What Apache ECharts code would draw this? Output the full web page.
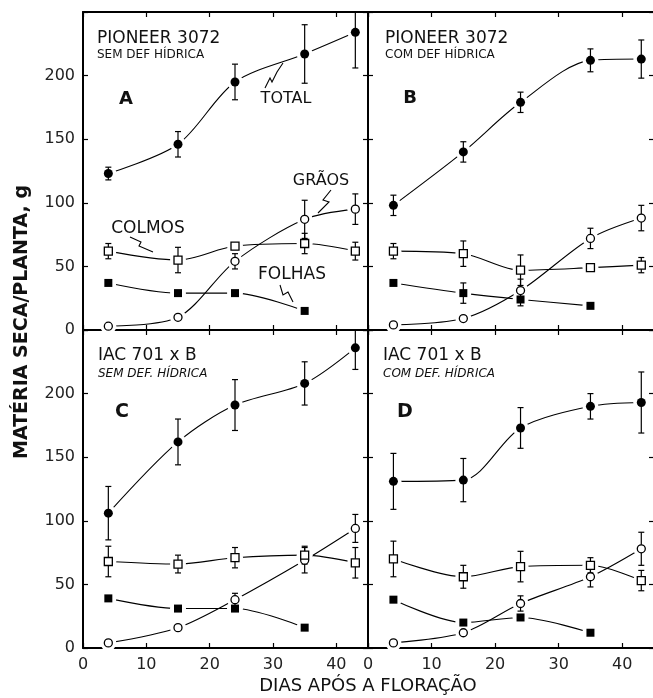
<!DOCTYPE html>
<html>
<head>
<meta charset="utf-8">
<script src="https://cdn.jsdelivr.net/npm/echarts@6/dist/echarts.min.js"></script>
<style>
  html, body { margin: 0; padding: 0; background: #fff; }
  #chart { width: 653px; height: 698px; }
</style>
</head>
<body>
<div id="chart"></div>
<script>
// sampling days after flowering
const days = [4, 15, 24, 35, 43];
const folhaDays = [4, 15, 24, 35];

// A - Pioneer 3072, sem deficiencia hidrica
const totalA = [123, 146, 195, 217, 234];
const totalErrA = [5, 10, 14, 23, 28];
const graosA = [3, 10, 54, 87, 95];
const graosErrA = [0, 0, 6, 15, 12];
const colmosA = [62, 55, 66, 68, 62];
const colmosErrA = [6, 10, 0, 8, 7];
const folhasA = [37, 29, 29, 15];

// B - Pioneer 3072, com deficiencia hidrica
const totalB = [98, 140, 179, 212, 213];
const totalErrB = [8, 8, 8, 9, 15];
const graosB = [4, 9, 31, 72, 88];
const graosErrB = [0, 0, 9, 8, 10];
const colmosB = [62, 60, 47, 49, 51];
const colmosErrB = [6, 10, 12, 0, 6];
const folhasB = [37, 29, 24, 19];
const folhasErrB = [0, 8, 5, 0];

// C - IAC 701 x B, sem deficiencia hidrica
const totalC = [106, 162, 191, 208, 236];
const totalErrC = [21, 18, 20, 17, 17];
const graosC = [4, 16, 38, 69, 94];
const graosErrC = [0, 0, 5, 10, 11];
const colmosC = [68, 66, 71, 73, 67];
const colmosErrC = [12, 7, 8, 7, 12];
const folhasC = [39, 31, 31, 16];

// D - IAC 701 x B, com deficiencia hidrica
const totalD = [131, 132, 173, 190, 193];
const totalErrD = [22, 17, 16, 10, 24];
const graosD = [4, 12, 35, 56, 78];
const graosErrD = [0, 0, 6, 8, 13];
const colmosD = [70, 56, 64, 65, 53];
const colmosErrD = [14, 9, 12, 6, 8];
const folhasD = [38, 20, 24, 12];

const yTicks = [0, 50, 100, 150, 200];
const xTicks = [0, 10, 20, 30, 40];

const FONT = '"DejaVu Sans", sans-serif';
const INK = '#111';
const HALO = '#fff';

const panels = [
    { total: totalA, totalErr: totalErrA, graos: graosA, graosErr: graosErrA, colmos: colmosA, colmosErr: colmosErrA, folhas: folhasA, folhasErr: [] },
    { total: totalB, totalErr: totalErrB, graos: graosB, graosErr: graosErrB, colmos: colmosB, colmosErr: colmosErrB, folhas: folhasB, folhasErr: folhasErrB },
    { total: totalC, totalErr: totalErrC, graos: graosC, graosErr: graosErrC, colmos: colmosC, colmosErr: colmosErrC, folhas: folhasC, folhasErr: [] },
    { total: totalD, totalErr: totalErrD, graos: graosD, graosErr: graosErrD, colmos: colmosD, colmosErr: colmosErrD, folhas: folhasD, folhasErr: [] },
];

const gridBoxes = [
    { left: 83, top: 12 },
    { left: 368, top: 12 },
    { left: 83, top: 330 },
    { left: 368, top: 330 },
];

const markerStyles = {
    total: { symbol: "circle", symbolSize: 9, itemStyle: { color: "#000", opacity: 1 } },
    graos: { symbol: "circle", symbolSize: 8, itemStyle: { color: "#fff", borderColor: "#000", borderWidth: 1.3, opacity: 1 } },
    colmos: { symbol: "rect", symbolSize: 8, itemStyle: { color: "#fff", borderColor: "#000", borderWidth: 1.3, opacity: 1 } },
    folhas: { symbol: "rect", symbolSize: 8, itemStyle: { color: "#000", opacity: 1 } },
};

function errorBarItem(params, api) {
    const x = api.value(0);
    const top = api.coord([x, api.value(2)]);
    const bot = api.coord([x, api.value(1)]);
    const style = { stroke: "#000", lineWidth: 1.2 };
    const w = 3;
    return {
        type: "group",
        children: [
            { type: "line", shape: { x1: top[0], y1: top[1], x2: bot[0], y2: bot[1] }, style },
            { type: "line", shape: { x1: top[0] - w, y1: top[1], x2: top[0] + w, y2: top[1] }, style },
            { type: "line", shape: { x1: bot[0] - w, y1: bot[1], x2: bot[0] + w, y2: bot[1] }, style },
        ],
    };
}

const grids = [];
const xAxes = [];
const yAxes = [];
const series = [];

function axisCommon() {
    return {
        axisLine: { show: true, onZero: false, lineStyle: { color: "#000", width: 2 } },
        axisTick: { show: true, inside: true, length: 5, lineStyle: { color: "#000", width: 1.2 } },
        splitLine: { show: false },
    };
}

function addGroup(g, name, xs, ys, errs) {
    const pts = xs.map((x, i) => [x, ys[i]]);
    const axes = { xAxisIndex: 2 * g, yAxisIndex: 2 * g };
    series.push({
        type: "line", ...axes, data: pts, smooth: 0.3,
        showSymbol: false, silent: true, z: 2,
        lineStyle: { color: "#000", width: 1.1 },
    });
    // white halo so the curves stop short of the markers
    series.push({
        type: "scatter", ...axes, data: pts, symbol: "circle", symbolSize: 16,
        itemStyle: { color: HALO, opacity: 1 }, silent: true, z: 3,
    });
    const bars = [];
    xs.forEach((x, i) => {
        const e = errs[i] || 0;
        if (e > 0) bars.push([x, ys[i] - e, ys[i] + e]);
    });
    if (bars.length) {
        series.push({ type: "custom", ...axes, data: bars, renderItem: errorBarItem, clip: true, silent: true, z: 4 });
    }
    series.push({ type: "scatter", name, ...axes, data: pts, silent: true, z: 5, ...markerStyles[name] });
}

gridBoxes.forEach((box, g) => {
    grids.push({ left: box.left, top: box.top, width: g % 2 ? 286 : 285, height: 318, outerBoundsMode: "none" });
    const showX = g >= 2;
    const showY = g % 2 === 0;
    xAxes.push({
        type: "value", gridIndex: g, position: "bottom", min: 0, max: 45, interval: 10, ...axisCommon(),
        axisLabel: {
            show: showX, margin: 9, color: "#222", fontFamily: FONT, fontSize: 16,
            formatter: (v) => (xTicks.includes(v) ? String(v) : ""),
        },
    });
    xAxes.push({
        type: "value", gridIndex: g, position: "top", min: 0, max: 45, interval: 10, ...axisCommon(),
        axisLabel: { show: false },
    });
    yAxes.push({
        type: "value", gridIndex: g, position: "left", min: 0, max: 250, interval: 50, ...axisCommon(),
        axisLabel: {
            show: showY, margin: 8, color: "#222", fontFamily: FONT, fontSize: 16,
            formatter: (v) => (yTicks.includes(v) ? String(v) : ""),
        },
    });
    yAxes.push({
        type: "value", gridIndex: g, position: "right", min: 0, max: 250, interval: 50, ...axisCommon(),
        axisLabel: { show: false },
    });

    const p = panels[g];
    addGroup(g, "total", days, p.total, p.totalErr);
    addGroup(g, "graos", days, p.graos, p.graosErr);
    addGroup(g, "colmos", days, p.colmos, p.colmosErr);
    addGroup(g, "folhas", folhaDays, p.folhas, p.folhasErr);
});

function txt(text, x, y, size, opts = {}) {
    const align = opts.align || "left";
    return {
        type: "text", x, y, rotation: opts.rotation || 0, z: 10, silent: true,
        style: {
            text, x: 0, y: 0, fill: INK,
            font: `${opts.italic ? "italic " : ""}${opts.bold ? "bold " : ""}${size}px ${FONT}`,
            align, textAlign: align, verticalAlign: "middle", textVerticalAlign: "middle",
        },
    };
}

function squiggle(points) {
    return { type: "polyline", z: 10, silent: true, shape: { points }, style: { stroke: "#000", lineWidth: 1.1, fill: null } };
}

const graphics = [
    // panel titles
    txt("PIONEER 3072", 97, 39, 17),
    txt("SEM DEF HÍDRICA", 97, 55, 12),
    txt("A", 126, 99, 18, { bold: true, align: "center" }),
    txt("PIONEER 3072", 385, 39, 17),
    txt("COM DEF HÍDRICA", 385, 55, 12),
    txt("B", 410, 98, 18, { bold: true, align: "center" }),
    txt("IAC 701 x B", 98, 356, 17),
    txt("SEM DEF. HÍDRICA", 98, 374, 12, { italic: true }),
    txt("C", 122, 412, 19, { bold: true, align: "center" }),
    txt("IAC 701 x B", 383, 356, 17),
    txt("COM DEF. HÍDRICA", 383, 374, 12, { italic: true }),
    txt("D", 405, 412, 19, { bold: true, align: "center" }),
    // component labels in panel A
    txt("TOTAL", 286, 99, 16, { align: "center" }),
    txt("GRÃOS", 321, 181, 16, { align: "center" }),
    txt("COLMOS", 148, 229, 17, { align: "center" }),
    txt("FOLHAS", 292, 275, 17, { align: "center" }),
    squiggle([[265, 88], [270, 78], [272, 82], [277, 72], [283, 63]]),
    squiggle([[331, 190], [323, 200], [329, 202], [318, 213]]),
    squiggle([[130, 237], [141, 242], [139, 246], [153, 252]]),
    squiggle([[280, 285], [283, 295], [288, 292], [293, 302]]),
    // axis titles
    txt("MATÉRIA SECA/PLANTA, g", 22, 322, 19, { bold: true, align: "center", rotation: Math.PI / 2 }),
    txt("DIAS APÓS A FLORAÇÃO", 368, 686, 18, { align: "center" }),
];

const chart = echarts.init(document.getElementById("chart"), null, { renderer: "canvas" });
chart.setOption({
    animation: false,
    backgroundColor: "#fff",
    grid: grids,
    xAxis: xAxes,
    yAxis: yAxes,
    series,
    graphic: graphics,
});
</script>
</body>
</html>
